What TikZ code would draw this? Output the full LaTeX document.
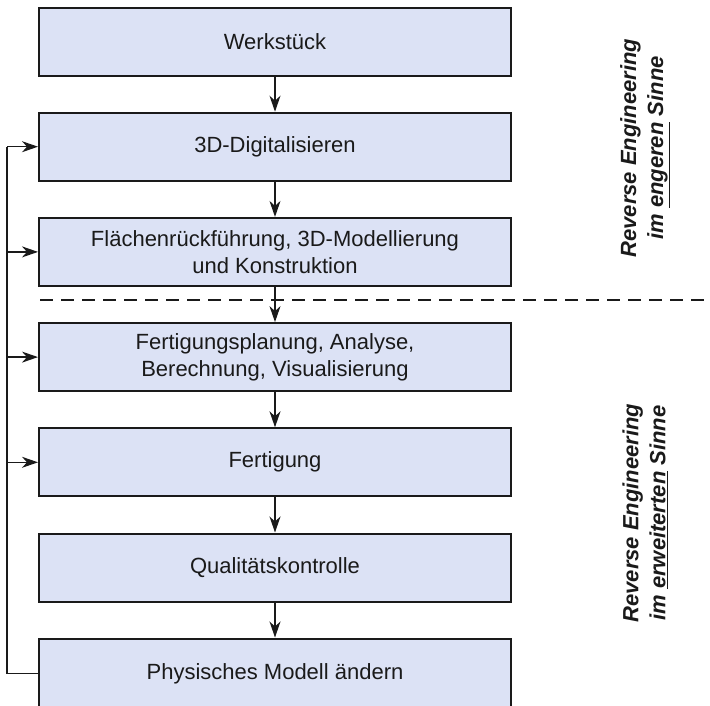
\documentclass[tikz,border=0pt]{standalone}
\usepackage{fontspec}
\setmainfont{Liberation Sans}
\usetikzlibrary{arrows.meta}
\definecolor{boxfill}{RGB}{220,226,245}
\definecolor{ink}{RGB}{26,26,26}
\begin{document}
\begin{tikzpicture}[x=1pt,y=-1pt,
  stepbox/.style={draw=ink, line width=2pt, fill=boxfill, minimum width=472pt,
    minimum height=68pt, align=center, text=ink,
    font=\fontsize{22}{26.5}\selectfont},
  flow/.style={draw=ink, line width=1.3pt, -{Stealth[length=16pt,width=11pt,inset=5pt]}},
  loopline/.style={draw=ink, line width=1.3pt},
  sidelabel/.style={rotate=90, align=center, text=ink,
    font=\fontsize{22}{27}\selectfont\bfseries\itshape}]
\useasboundingbox (0,0) rectangle (710,705);

% process chain
\node[stepbox] (ws)  at (275,41.5)  {Werkstück};
\node[stepbox] (dig) at (275,146.7) {3D-Digitalisieren};
\node[stepbox] (fl)  at (275,251.9) {Flächenrückführung, 3D-Modellierung\\und Konstruktion};
\node[stepbox] (fp)  at (275,357.1) {Fertigungsplanung, Analyse,\\Berechnung, Visualisierung};
\node[stepbox] (fe)  at (275,462.3) {Fertigung};
\node[stepbox] (qk)  at (275,567.5) {Qualitätskontrolle};
\node[stepbox, minimum height=70pt] (pm) at (275,673.5) {Physisches Modell ändern};

\draw[flow] (ws) -- (dig);
\draw[flow] (dig) -- (fl);
\draw[flow] (fl) -- (fp);
\draw[flow] (fp) -- (fe);
\draw[flow] (fe) -- (qk);
\draw[flow] (qk) -- (pm);

% boundary between the narrow and the wider sense
\coordinate (dl) at (40,300);
\coordinate (dr) at (710,300);
\draw[ink, line width=2.6pt, dash pattern=on 13pt off 8pt] (dl) -- (dr);

% feedback loop from the physical model back into the chain
\coordinate (back) at (7,0);
\draw[loopline] (pm.west) -- (back |- pm.west) -- (back |- dig.west);
\draw[flow] (back |- dig.west) -- (dig.west);
\draw[flow] (back |- fl.west) -- (fl.west);
\draw[flow] (back |- fp.west) -- (fp.west);
\draw[flow] (back |- fe.west) -- (fe.west);

% side labels
\node[sidelabel] (eng) at (645,148) {Reverse Engineering\\im \underline{engeren} Sinne};
\node[sidelabel] (erw) at (645,513) {Reverse Engineering\\im \underline{erweiterten} Sinne};
\end{tikzpicture}
\end{document}
